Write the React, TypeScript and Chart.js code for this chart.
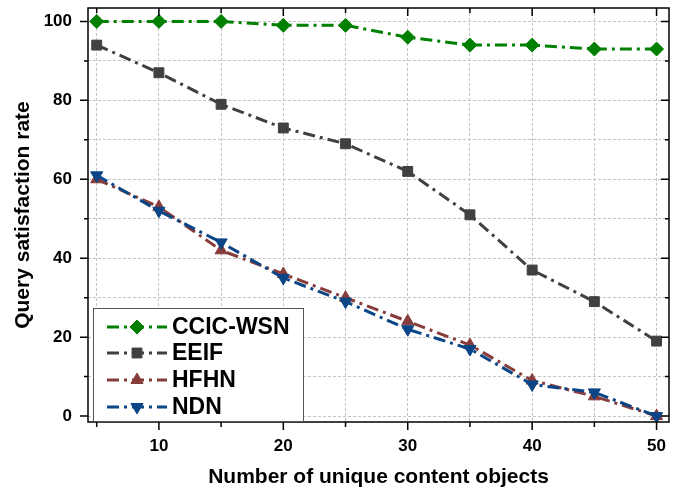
import React, { useEffect, useRef } from "react";
import { Chart, registerables } from "chart.js";

Chart.register(...registerables);

const xValues = [5, 10, 15, 20, 25, 30, 35, 40, 45, 50];
const ccicWsn = [100, 100, 100, 99, 99, 96, 94, 94, 93, 93];
const eeif = [94, 87, 79, 73, 69, 62, 51, 37, 29, 19];
const hfhn = [60, 53, 42, 36, 30, 24, 18, 9, 5, 0];
const ndn = [61, 52, 44, 35, 29, 22, 17, 8, 6, 0];

const seriesNames = ["CCIC-WSN", "EEIF", "HFHN", "NDN"];
const seriesColors = ["#008000", "#404040", "#873c3c", "#0a4586"];
const seriesStyles = ["rectRot", "rect", "triangle", "triangle"];
const seriesRotation = [0, 0, 0, 180];
const seriesRadius = [7, 7, 7, 7];

const xMajor = [10, 20, 30, 40, 50];
const xMinor = [5, 15, 25, 35, 45];
const yMajor = [0, 20, 40, 60, 80, 100];
const yMinor = [10, 30, 50, 70, 90];

const DASH = [12, 5, 3, 5];
const FONT = "'Liberation Sans', Arial, sans-serif";

function drawMarker(ctx: CanvasRenderingContext2D, style: string, r: number, rot: number, x: number, y: number) {
  ctx.beginPath();
  const rad = (rot * Math.PI) / 180;
  if (style === "rectRot") {
    ctx.moveTo(x, y - r);
    ctx.lineTo(x + r, y);
    ctx.lineTo(x, y + r);
    ctx.lineTo(x - r, y);
  } else if (style === "rect") {
    const s = Math.SQRT1_2 * r;
    ctx.rect(x - s, y - s, 2 * s, 2 * s);
  } else {
    let a = rad;
    ctx.moveTo(x + Math.sin(a) * r, y - Math.cos(a) * r);
    a += (2 * Math.PI) / 3;
    ctx.lineTo(x + Math.sin(a) * r, y - Math.cos(a) * r);
    a += (2 * Math.PI) / 3;
    ctx.lineTo(x + Math.sin(a) * r, y - Math.cos(a) * r);
  }
  ctx.closePath();
  ctx.fill();
  ctx.stroke();
}

const framePlugin = {
  id: "frameTicks",
  afterDatasetsDraw(chart: any) {
    const ctx = chart.ctx;
    const { left, right, top, bottom } = chart.chartArea;
    const xs = chart.scales.x;
    const ys = chart.scales.y;
    ctx.save();
    ctx.strokeStyle = "#000";
    ctx.lineWidth = 1.5;
    ctx.setLineDash([]);
    ctx.strokeRect(left, top, right - left, bottom - top);
    ctx.beginPath();
    const tickX = (v: number, len: number) => {
      const px = xs.getPixelForValue(v);
      ctx.moveTo(px, bottom);
      ctx.lineTo(px, bottom + len);
      ctx.moveTo(px, top);
      ctx.lineTo(px, top + len);
    };
    const tickY = (v: number, len: number) => {
      const py = ys.getPixelForValue(v);
      ctx.moveTo(left, py);
      ctx.lineTo(left - len, py);
      ctx.moveTo(right, py);
      ctx.lineTo(right - len, py);
    };
    xMajor.forEach((v) => tickX(v, 8));
    xMinor.forEach((v) => tickX(v, 5));
    yMajor.forEach((v) => tickY(v, 8));
    yMinor.forEach((v) => tickY(v, 4));
    ctx.stroke();

    // legend
    const bx = 93, by = 308, bw = 210, bh = 114;
    ctx.fillStyle = "#fff";
    ctx.fillRect(bx, by, bw, bh);
    ctx.strokeStyle = "#555";
    ctx.lineWidth = 1;
    ctx.strokeRect(bx + 0.5, by + 0.5, bw, bh - 1);
    const rows = [327, 353, 380, 407];
    seriesNames.forEach((name, i) => {
      const y = rows[i];
      ctx.strokeStyle = seriesColors[i];
      ctx.lineWidth = 3;
      ctx.setLineDash(DASH);
      ctx.beginPath();
      ctx.moveTo(107, y);
      ctx.lineTo(167, y);
      ctx.stroke();
      ctx.setLineDash([]);
      ctx.fillStyle = seriesColors[i];
      ctx.strokeStyle = seriesColors[i];
      ctx.lineWidth = 1;
      drawMarker(ctx, seriesStyles[i], seriesRadius[i], seriesRotation[i], 137, y);
      ctx.fillStyle = "#000";
      ctx.font = `bold 23px ${FONT}`;
      ctx.textAlign = "left";
      ctx.textBaseline = "middle";
      ctx.fillText(name, 172, y + 1);
    });
    ctx.restore();
  },
};

export default function App() {
  const ref = useRef<HTMLCanvasElement | null>(null);
  useEffect(() => {
    document.body.style.margin = "0";
    const seriesData = [ccicWsn, eeif, hfhn, ndn];
    const orders = [1, 2, 3, 0];
    const chart = new Chart(ref.current as HTMLCanvasElement, {
      type: "line",
      data: {
        datasets: seriesNames.map((name, i) => ({
          label: name,
          data: xValues.map((x, j) => ({ x, y: seriesData[i][j] })),
          borderColor: seriesColors[i],
          backgroundColor: seriesColors[i],
          borderWidth: 3,
          borderDash: DASH,
          pointStyle: seriesStyles[i] as any,
          pointRotation: seriesRotation[i],
          pointRadius: seriesRadius[i],
          pointBorderWidth: 1,
          pointHoverRadius: seriesRadius[i],
          fill: false,
          tension: 0,
          order: orders[i],
        })),
      },
      options: {
        animation: false,
        responsive: false,
        events: [],
        layout: { padding: { left: 0, top: 3, right: 10, bottom: 0 } },
        plugins: {
          legend: { display: false },
          tooltip: { enabled: false },
        },
        scales: {
          x: {
            type: "linear",
            min: 4.3,
            max: 51,
            afterFit: (s: any) => {
              s.height = 69;
              s.paddingLeft = 0;
              s.paddingRight = 0;
              s.paddingTop = 0;
              s.paddingBottom = 0;
            },
            ticks: {
              stepSize: 5,
              includeBounds: false,
              padding: 14,
              color: "#000",
              font: { family: FONT, size: 17, weight: "bold" },
              callback: (v: any) => (Number(v) % 10 === 0 ? String(v) : ""),
              maxRotation: 0,
              autoSkip: false,
            },
            grid: {
              color: "#c4c4c4",
              lineWidth: 1,
              drawTicks: false,
            },
            border: { display: false, dash: [3, 2] },
            title: {
              display: true,
              text: "Number of unique content objects",
              color: "#000",
              font: { family: FONT, size: 21, weight: "bold" },
              padding: { top: 0, bottom: 1 },
            },
          },
          y: {
            type: "linear",
            min: -1.5,
            max: 103.4,
            afterFit: (s: any) => {
              s.width = 88;
              s.paddingLeft = 0;
              s.paddingRight = 0;
              s.paddingTop = 0;
              s.paddingBottom = 0;
            },
            ticks: {
              stepSize: 10,
              includeBounds: false,
              padding: 16,
              color: "#000",
              font: { family: FONT, size: 17, weight: "bold" },
              callback: (v: any) => (Number(v) % 20 === 0 ? String(v) : ""),
              autoSkip: false,
            },
            grid: {
              color: "#c4c4c4",
              lineWidth: 1,
              drawTicks: false,
            },
            border: { display: false, dash: [3, 2] },
            title: {
              display: true,
              text: "Query satisfaction rate",
              color: "#000",
              font: { family: FONT, size: 21, weight: "bold" },
              padding: { top: 11, bottom: 0 },
            },
          },
        },
      },
      plugins: [framePlugin],
    });
    return () => chart.destroy();
  }, []);
  return (
    <div style={{ width: 679, height: 491 }}>
      <canvas ref={ref} width={679} height={491} />
    </div>
  );
}
